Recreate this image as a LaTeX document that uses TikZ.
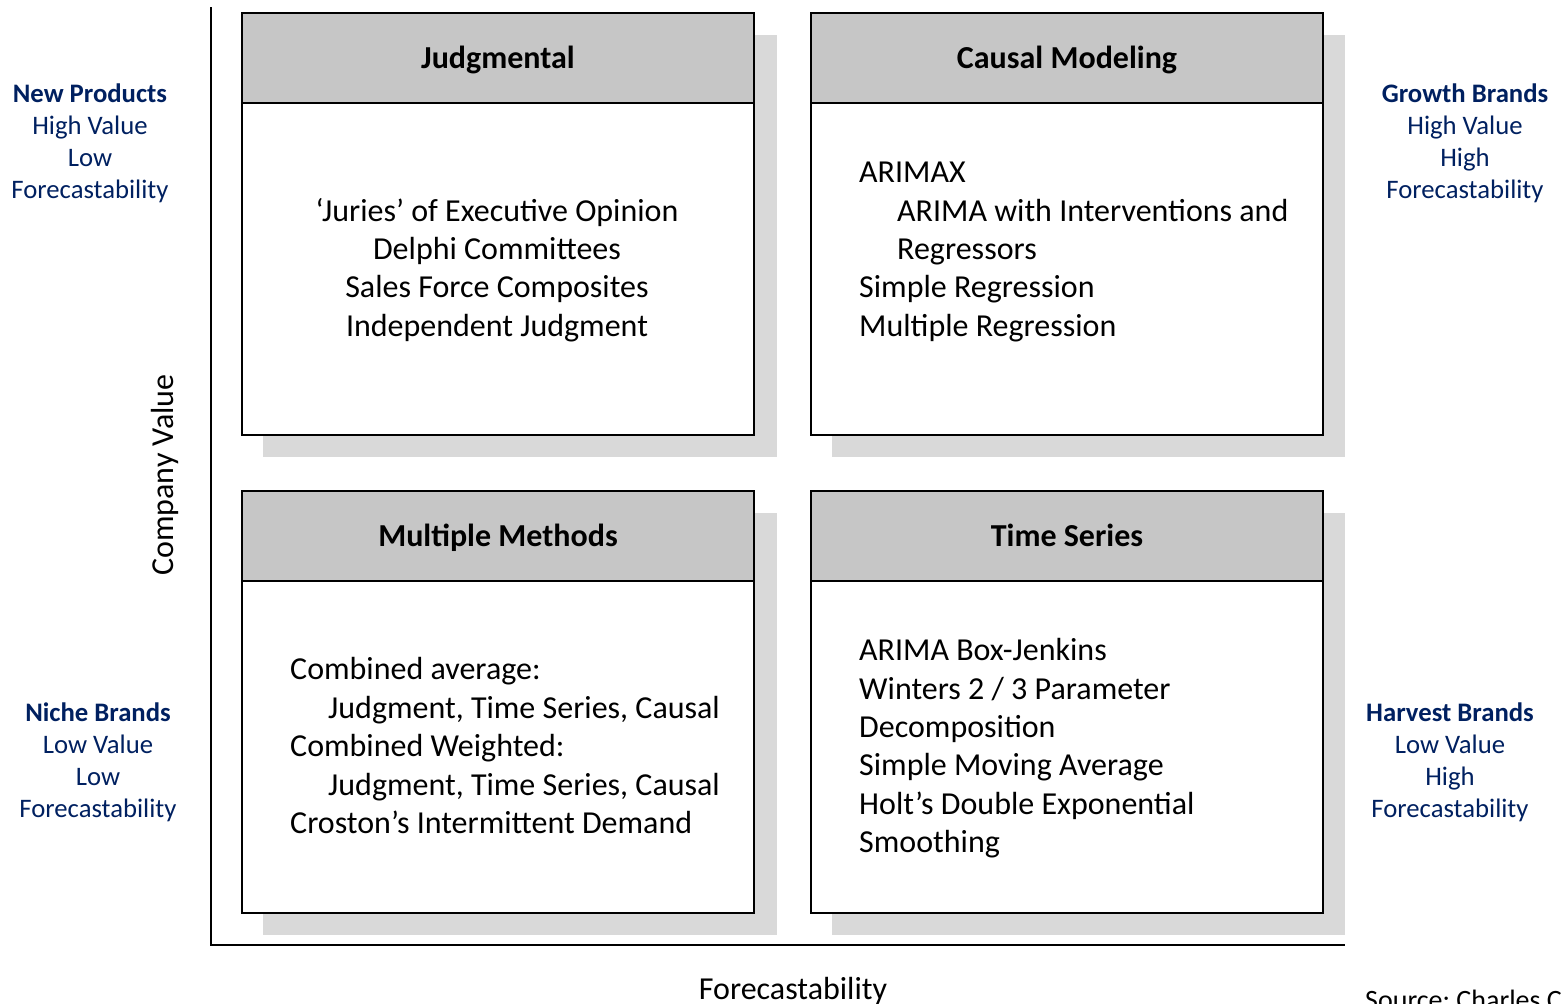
\documentclass[tikz,border=0pt]{standalone}
\usepackage{fontspec}
\setmainfont{Carlito}
\definecolor{hdr}{HTML}{C6C6C6}
\definecolor{shd}{HTML}{D9D9D9}
\definecolor{navy}{HTML}{002060}
\frenchspacing
\begin{document}
\begin{tikzpicture}[x=1pt,y=-1pt,
  box/.style={draw=black,line width=2pt,fill=white,minimum width=512pt,minimum height=422pt,anchor=north west,inner sep=0pt},
  hdrbox/.style={draw=black,line width=2pt,fill=hdr,minimum width=512pt,minimum height=90pt,anchor=north west,inner sep=0pt,text height=26pt,text depth=6pt,font=\fontsize{32}{38.4}\selectfont\bfseries},
  shadowbox/.style={fill=shd},
  body/.style={anchor=base west,inner sep=0pt,font=\fontsize{32}{38.4}\selectfont},
  bodyc/.style={anchor=base,inner sep=0pt,font=\fontsize{32}{38.4}\selectfont},
  side/.style={anchor=base,inner sep=0pt,text=navy,font=\fontsize{26.7}{32}\selectfont},
  sideb/.style={anchor=base,inner sep=0pt,text=navy,font=\fontsize{26.7}{32}\selectfont\bfseries},
  axislabel/.style={inner sep=0pt,font=\fontsize{32}{38.4}\selectfont}
]
\useasboundingbox (0,0) rectangle (1561,1004);
% shadows
\fill[shadowbox] (263,35) rectangle (777,457);
\fill[shadowbox] (832,35) rectangle (1345,457);
\fill[shadowbox] (263,513) rectangle (777,935);
\fill[shadowbox] (832,513) rectangle (1345,935);
% axes
\coordinate (ytop) at (211,7);
\coordinate (orig) at (211,945);
\coordinate (xend) at (1345,945);
\draw[line width=2pt] (ytop) -- (orig) -- (xend);
% boxes
\node[box] (tl) at (241,12) {};
\node[hdrbox] (tlh) at (241,12) {Judgmental};
\node[box] (tr) at (810,12) {};
\node[hdrbox] (trh) at (810,12) {Causal Modeling};
\node[box] (bl) at (241,490) {};
\node[hdrbox] (blh) at (241,490) {Multiple Methods};
\node[box] (br) at (810,490) {};
\node[hdrbox] (brh) at (810,490) {Time Series};
% TL body
\node[bodyc] (tl1) at (497,221) {‘Juries’ of Executive Opinion};
\node[bodyc] (tl2) at (497,259) {Delphi Committees};
\node[bodyc] (tl3) at (497,297) {Sales Force Composites};
\node[bodyc] (tl4) at (497,336) {Independent Judgment};
% TR body
\node[body] (tr1) at (859,182) {ARIMAX};
\node[body] (tr2) at (897,221) {ARIMA with Interventions and};
\node[body] (tr3) at (897,259) {Regressors};
\node[body] (tr4) at (859,297) {Simple Regression};
\node[body] (tr5) at (859,336) {Multiple Regression};
% BL body
\node[body] (bl1) at (290,679) {Combined average:};
\node[body] (bl2) at (328,718) {Judgment, Time Series, Causal};
\node[body] (bl3) at (290,756) {Combined Weighted:};
\node[body] (bl4) at (328,795) {Judgment, Time Series, Causal};
\node[body] (bl5) at (290,833) {Croston’s Intermittent Demand};
% BR body
\node[body] (br1) at (859,660) {ARIMA Box-Jenkins};
\node[body] (br2) at (859,699) {Winters 2 / 3 Parameter};
\node[body] (br3) at (859,737) {Decomposition};
\node[body] (br4) at (859,775) {Simple Moving Average};
\node[body] (br5) at (859,814) {Holt’s Double Exponential};
\node[body] (br6) at (859,852) {Smoothing};
% side labels left top
\node[sideb] (lt1) at (90,102) {New Products};
\node[side] (lt2) at (90,134) {High Value};
\node[side] (lt3) at (90,166) {Low};
\node[side] (lt4) at (90,198) {Forecastability};
% left bottom
\node[sideb] (lb1) at (98,721) {Niche Brands};
\node[side] (lb2) at (98,753) {Low Value};
\node[side] (lb3) at (98,785) {Low};
\node[side] (lb4) at (98,817) {Forecastability};
% right top
\node[sideb] (rt1) at (1465,102) {Growth Brands};
\node[side] (rt2) at (1465,134) {High Value};
\node[side] (rt3) at (1465,166) {High};
\node[side] (rt4) at (1465,198) {Forecastability};
% right bottom
\node[sideb] (rb1) at (1450,721) {Harvest Brands};
\node[side] (rb2) at (1450,753) {Low Value};
\node[side] (rb3) at (1450,785) {High};
\node[side] (rb4) at (1450,817) {Forecastability};
% axis labels
\node[axislabel,rotate=90] (ylab) at (165,475) {Company Value};
\node[axislabel,anchor=base] (xlab) at (793,999) {Forecastability};
\node[inner sep=0pt,anchor=base west,font=\fontsize{28}{34}\selectfont] (src) at (1365,1009) {Source: Charles C};
\end{tikzpicture}
\end{document}
